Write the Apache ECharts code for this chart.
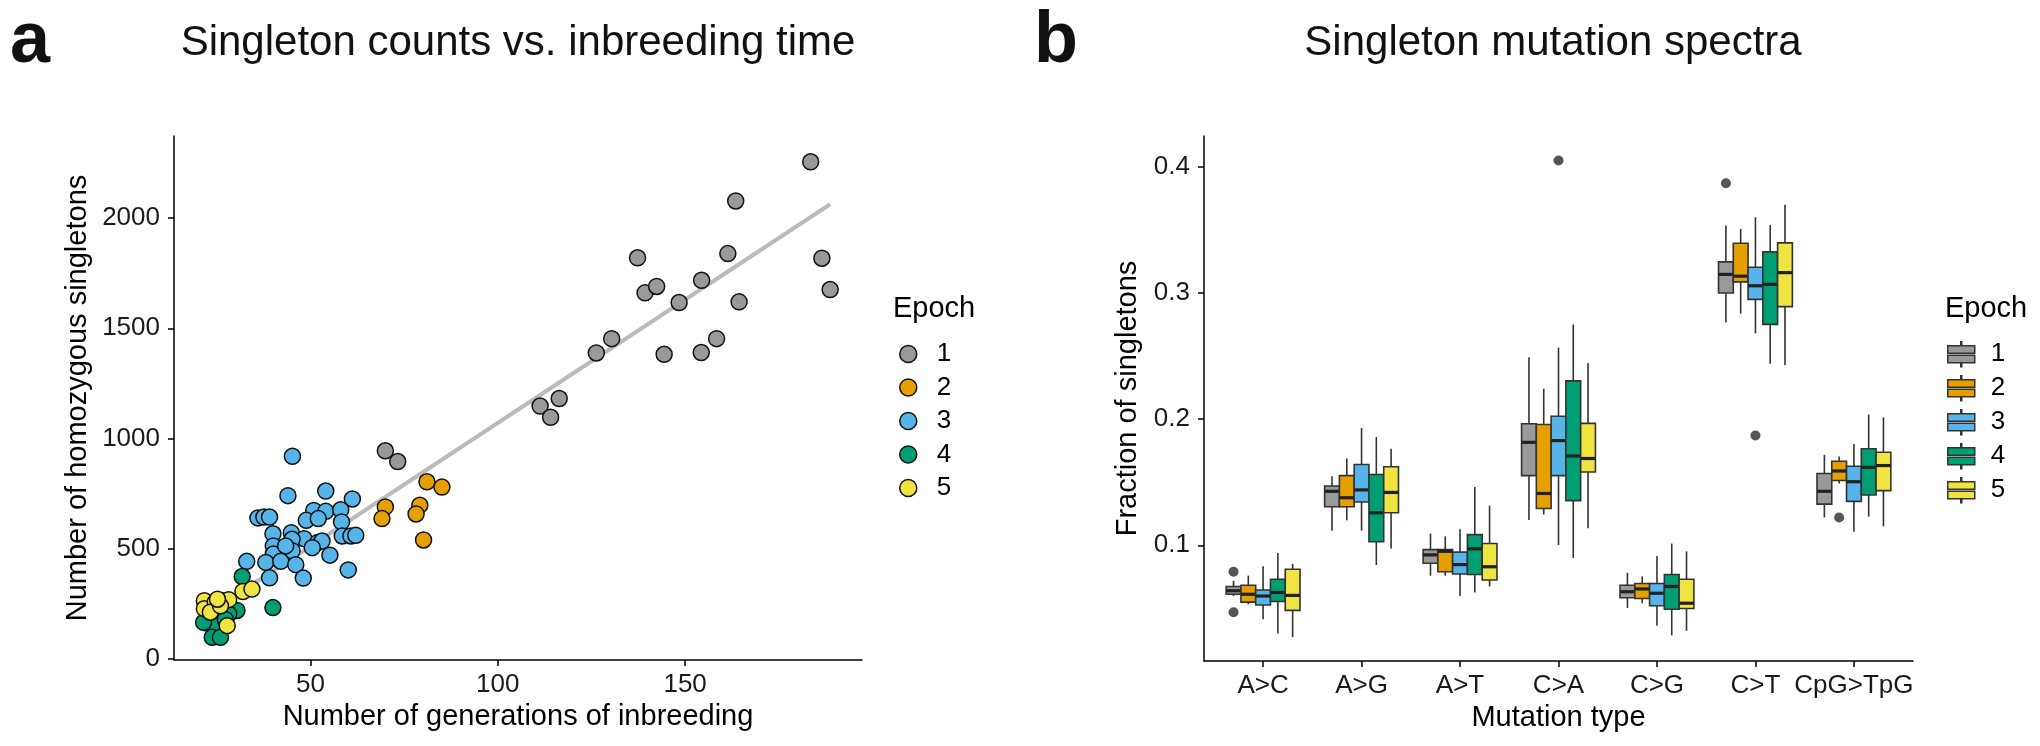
<!DOCTYPE html>
<html><head><meta charset="utf-8">
<script src="https://cdn.jsdelivr.net/npm/echarts@6/dist/echarts.min.js"></script>
<style>html,body{margin:0;padding:0;background:#fff}#c{width:2040px;height:746px}</style>
</head><body><div id="c"></div>
<script>
// ---------- Shared ----------
const epochs = ['1', '2', '3', '4', '5'];
const epochColors = ['#999999', '#E69F00', '#56B4E9', '#009E73', '#F0E442'];

// ---------- Panel a: singleton counts vs. generations ----------
const epoch1Points = [[70.0,944],[73.3,895],[111.3,1147],[114.1,1096],[116.4,1181],[126.3,1388],[130.4,1453],[137.3,1820],[139.3,1661],[142.4,1690],[144.4,1382],[148.4,1617],[154.4,1718],[154.3,1390],[158.4,1453],[161.4,1839],[163.5,2078],[164.4,1620],[183.5,2256],[186.5,1818],[188.7,1676]];
const epoch2Points = [[81.1,803],[85.1,779],[70.0,689],[69.1,636],[79.2,697],[78.2,657],[80.2,539]];
const epoch3Points = [[45.2,919],[44.0,740],[54.1,761],[61.2,725],[36.0,639],[37.6,643],[39.1,643],[50.9,673],[54.1,669],[58.1,676],[48.9,628],[52.1,636],[58.3,621],[40.0,567],[44.9,572],[48.3,545],[45.1,542],[51.9,527],[53.1,534],[58.5,557],[60.8,557],[62.1,560],[45.1,490],[40.1,512],[40.1,475],[38.1,437],[42.1,442],[46.1,427],[55.2,470],[33.0,442],[39.1,367],[48.1,366],[60.1,403],[43.4,512],[50.5,504]];
const epoch4Points = [[31.8,373],[40.0,232],[30.4,219],[28.2,203],[22.4,162],[24.2,154],[23.8,97],[26.0,97],[21.5,165],[27.3,178]];
const epoch5Points = [[21.7,263],[21.7,227],[24.6,256],[26.6,263],[28.2,268],[27.8,150],[32.0,305],[34.4,316],[23.3,211],[26.0,240],[25.2,270]];
const fitLine = [[21,186],[188.7,2063]];
const xTicksA = [50, 100, 150];
const yTicksA = [0, 500, 1000, 1500, 2000];

// ---------- Panel b: mutation spectra boxplots ----------
const mutationTypes = ['A>C', 'A>G', 'A>T', 'C>A', 'C>G', 'C>T', 'CpG>TpG'];
// each entry: [lower whisker, Q1, median, Q3, upper whisker]
const epoch1Box = [[0.0598,0.0612,0.064,0.0674,0.072],[0.1116,0.1306,0.1428,0.147,0.1547],[0.0759,0.0858,0.0924,0.0966,0.1093],[0.1201,0.1552,0.1816,0.1963,0.249],[0.0504,0.0584,0.0632,0.0683,0.0782],[0.2766,0.30,0.3147,0.3246,0.3535],[0.1221,0.1326,0.1428,0.1569,0.1717]];
const epoch2Box = [[0.0533,0.055,0.0612,0.0683,0.076],[0.1198,0.1306,0.1377,0.1552,0.1688],[0.0759,0.079,0.0952,0.0966,0.1071],[0.1244,0.1292,0.1411,0.1958,0.2241],[0.0541,0.0578,0.0654,0.0697,0.0754],[0.2836,0.3088,0.3133,0.3394,0.3507],[0.149,0.1513,0.1589,0.1666,0.1703]];
const epoch3Box = [[0.0414,0.0527,0.0598,0.0646,0.0833],[0.1116,0.1343,0.1439,0.164,0.1929],[0.0598,0.0773,0.0847,0.0946,0.1127],[0.1003,0.1552,0.183,0.2023,0.2567],[0.0363,0.0521,0.062,0.0697,0.0915],[0.268,0.2949,0.3057,0.3204,0.36],[0.1108,0.1348,0.1504,0.1626,0.1802]];
const epoch4Box = [[0.030,0.0555,0.0626,0.0731,0.0938],[0.0844,0.1028,0.1258,0.1561,0.1858],[0.0626,0.0768,0.0972,0.1085,0.1462],[0.090,0.1354,0.1708,0.2303,0.275],[0.0286,0.0493,0.0674,0.0768,0.1014],[0.2439,0.2751,0.3068,0.3326,0.3538],[0.1227,0.1399,0.1618,0.1765,0.2037]];
const epoch5Box = [[0.0272,0.0484,0.0603,0.081,0.0853],[0.0975,0.1258,0.1419,0.1623,0.1765],[0.0674,0.0725,0.083,0.1014,0.1314],[0.1136,0.1581,0.1688,0.1966,0.2445],[0.0323,0.0499,0.0541,0.0731,0.0952],[0.243,0.2892,0.3161,0.3397,0.37],[0.115,0.1433,0.1632,0.1737,0.2014]];
// [mutation type index, epoch index, value]
const outliers = [[0,0,0.079],[0,0,0.047],[3,2,0.405],[5,0,0.387],[5,2,0.187],[6,1,0.122]];
const yTicksB = [0.1, 0.2, 0.3, 0.4];

// ---------- Build ----------
const FONT = '"Liberation Sans", Arial, Helvetica, sans-serif';
const pointSets = [epoch1Points, epoch2Points, epoch3Points, epoch4Points, epoch5Points];
const boxSets = [epoch1Box, epoch2Box, epoch3Box, epoch4Box, epoch5Box];
const dodge = 0.75, boxW = dodge / 5;
const offsetOf = e => (e - 2) * boxW;

function renderBox(params, api) {
  const x = api.value(0);
  const lo = api.coord([x, api.value(1)]);
  const q1 = api.coord([x, api.value(2)]);
  const md = api.coord([x, api.value(3)]);
  const q3 = api.coord([x, api.value(4)]);
  const hi = api.coord([x, api.value(5)]);
  const hw = api.size([boxW, 0])[0] / 2;
  const fill = api.visual('color');
  const stroke = '#333333';
  return { type: 'group', children: [
    { type: 'line', shape: { x1: hi[0], y1: hi[1], x2: q3[0], y2: q3[1] }, style: { stroke, lineWidth: 1.6 } },
    { type: 'line', shape: { x1: q1[0], y1: q1[1], x2: lo[0], y2: lo[1] }, style: { stroke, lineWidth: 1.6 } },
    { type: 'rect', shape: { x: q3[0] - hw, y: q3[1], width: hw * 2, height: q1[1] - q3[1] }, style: { fill, stroke, lineWidth: 1.6 } },
    { type: 'line', shape: { x1: md[0] - hw, y1: md[1], x2: md[0] + hw, y2: md[1] }, style: { stroke: '#222', lineWidth: 3.2 } }
  ]};
}

const series = [];
series.push({
  type: 'line', xAxisIndex: 0, yAxisIndex: 0, data: fitLine, showSymbol: false, silent: true,
  lineStyle: { color: '#bbbbbb', width: 4 }, z: 1
});
epochs.forEach((name, i) => {
  series.push({
    name, type: 'scatter', xAxisIndex: 0, yAxisIndex: 0, data: pointSets[i], symbolSize: 16, z: 2 + i,
    itemStyle: { color: epochColors[i], borderColor: '#111', borderWidth: 1.5, opacity: 1 }
  });
});
epochs.forEach((name, i) => {
  const data = boxSets[i].map((s, c) => [c + 1 + offsetOf(i), s[0], s[1], s[2], s[3], s[4]]);
  series.push({
    name: 'b' + name, type: 'custom', xAxisIndex: 1, yAxisIndex: 1, renderItem: renderBox, data,
    encode: { x: 0, y: [1, 2, 3, 4, 5] }, itemStyle: { color: epochColors[i] }, z: 2
  });
});
series.push({
  name: 'outliers', type: 'scatter', xAxisIndex: 1, yAxisIndex: 1, symbolSize: 10, z: 3,
  data: outliers.map(o => [o[0] + 1 + offsetOf(o[1]), o[2]]),
  itemStyle: { color: '#2b2b2b' }
});

const axisCommon = {
  axisLine: { onZero: false, lineStyle: { color: '#000', width: 1.5 } },
  axisTick: { length: 6, lineStyle: { color: '#000', width: 1.5 } },
  splitLine: { show: false },
  nameLocation: 'middle',
  nameTextStyle: { fontSize: 29, color: '#000', fontFamily: FONT }
};
const labelCommon = { fontSize: 26, color: '#1a1a1a', fontFamily: FONT };

const boxIcon = 'path://M0 4 L27 4 L27 11.6 L0 11.6 Z M0 13.4 L27 13.4 L27 21 L0 21 Z M13 0 L14 0 L14 4 L13 4 Z M13 21 L14 21 L14 25 L13 25 Z';

const option = {
  animation: false,
  backgroundColor: '#fff',
  textStyle: { fontFamily: FONT },
  title: [
    { text: 'a', left: 10, top: 6, padding: 0, textStyle: { fontSize: 72, fontWeight: 'bold', color: '#111', fontFamily: FONT } },
    { text: 'Singleton counts vs. inbreeding time', left: 518, textAlign: 'center', top: 22, padding: 0, textStyle: { fontSize: 42, fontWeight: 'normal', color: '#111', fontFamily: FONT } },
    { text: 'b', left: 1034, top: 6, padding: 0, textStyle: { fontSize: 72, fontWeight: 'bold', color: '#111', fontFamily: FONT } },
    { text: 'Singleton mutation spectra', left: 1553, textAlign: 'center', top: 22, padding: 0, textStyle: { fontSize: 42, fontWeight: 'normal', color: '#111', fontFamily: FONT } },
    { text: 'Epoch', left: 893, top: 294, padding: 0, textStyle: { fontSize: 29, fontWeight: 'normal', color: '#000', fontFamily: FONT } },
    { text: 'Epoch', left: 1945, top: 294, padding: 0, textStyle: { fontSize: 29, fontWeight: 'normal', color: '#000', fontFamily: FONT } }
  ],
  grid: [
    { left: 174, top: 136, width: 688, height: 524 },
    { left: 1204, top: 136, width: 709, height: 525 }
  ],
  xAxis: [
    Object.assign({}, axisCommon, {
      type: 'value', gridIndex: 0, min: 13.6, max: 197.2,
      name: 'Number of generations of inbreeding', nameGap: 40,
      axisTick: Object.assign({}, axisCommon.axisTick, { customValues: xTicksA }),
      axisLabel: Object.assign({}, labelCommon, { customValues: xTicksA, margin: 12, formatter: v => String(v) })
    }),
    Object.assign({}, axisCommon, {
      type: 'value', gridIndex: 1, min: 0.4, max: 7.6,
      name: 'Mutation type', nameGap: 40,
      axisTick: Object.assign({}, axisCommon.axisTick, { customValues: mutationTypes.map((m, i) => i + 1) }),
      axisLabel: Object.assign({}, labelCommon, { customValues: mutationTypes.map((m, i) => i + 1), margin: 12,
        formatter: v => mutationTypes[Math.round(v) - 1] })
    })
  ],
  yAxis: [
    Object.assign({}, axisCommon, {
      type: 'value', gridIndex: 0, min: -6, max: 2373,
      name: 'Number of homozygous singletons', nameGap: 82,
      axisTick: Object.assign({}, axisCommon.axisTick, { customValues: yTicksA }),
      axisLabel: Object.assign({}, labelCommon, { customValues: yTicksA, margin: 14, formatter: v => String(v) })
    }),
    Object.assign({}, axisCommon, {
      type: 'value', gridIndex: 1, min: 0.0083, max: 0.4244,
      name: 'Fraction of singletons', nameGap: 62,
      axisTick: Object.assign({}, axisCommon.axisTick, { customValues: yTicksB }),
      axisLabel: Object.assign({}, labelCommon, { customValues: yTicksB, margin: 14, formatter: v => v.toFixed(1) })
    })
  ],
  legend: [
    { data: epochs, orient: 'vertical', left: 899, top: 341, padding: 0, itemGap: 7.5,
      itemWidth: 17, itemHeight: 17, icon: 'circle', selectedMode: false,
      itemStyle: { borderColor: '#111', borderWidth: 1.5 },
      textStyle: { fontSize: 26, lineHeight: 26, color: '#000', fontFamily: FONT, padding: [0, 0, 0, 15] } },
    { data: epochs.map(e => 'b' + e), orient: 'vertical', left: 1947, top: 341, padding: 0, itemGap: 7.5,
      itemWidth: 27, itemHeight: 25, icon: boxIcon, selectedMode: false,
      formatter: n => n.slice(1),
      itemStyle: { borderColor: '#333', borderWidth: 1.5 },
      textStyle: { fontSize: 26, lineHeight: 26, color: '#000', fontFamily: FONT, padding: [0, 0, 0, 11] } }
  ],
  series
};
const chart = echarts.init(document.getElementById('c'), null, { renderer: 'canvas' });
chart.setOption(option);
</script>
</body></html>
